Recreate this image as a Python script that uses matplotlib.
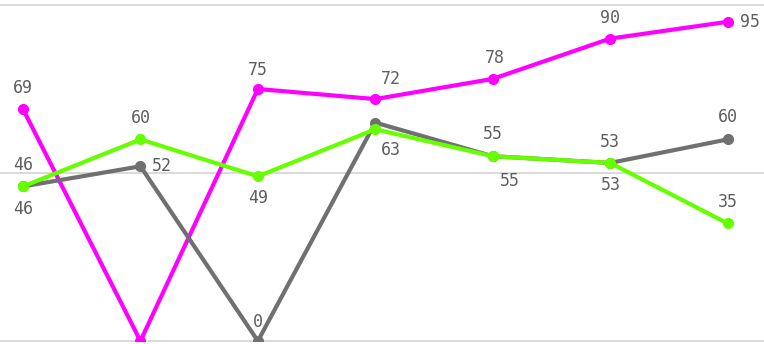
import matplotlib
matplotlib.use("Agg")
import matplotlib.pyplot as plt

# data
x = list(range(7))
magenta_vals = [69, 0, 75, 72, 78, 90, 95]
gray_vals = [46, 52, 0, 65, 55, 53, 60]
green_vals = [46, 60, 49, 63, 55, 53, 35]

# label text per point (None = no label shown)
magenta_lbl = ["69", None, "75", "72", "78", "90", "95"]
gray_lbl = ["46", "52", "0", None, "55", "53", "60"]
green_lbl = ["46", "60", "49", "63", "55", "53", "35"]

# label offsets in pixels (dx, dy)
magenta_off = [(0, 21), None, (0, 19), (16, 20), (2, 21), (0, 21), (22, 0)]
gray_off = [(0, 21), (21, 0), (0, 19), None, (0, 22), (0, 21), (0, 22)]
green_off = [(0, -23), (0, 21), (0, -22), (16, -21), (17, -25), (1, -22), (0, 21)]

fig = plt.figure(figsize=(7.64, 3.44), dpi=100)
ax = fig.add_axes([0, 3 / 344, 1, 336 / 344])
ax.set_xlim(-0.196, 6.31)
ax.set_ylim(0, 100)
ax.set_axis_off()

for yv in (0, 50, 100):
    ax.axhline(yv, color="#d3d3d3", lw=1.2, zorder=0, clip_on=False)

series = [
    (magenta_vals, magenta_lbl, magenta_off, "#ff00ff"),
    (gray_vals, gray_lbl, gray_off, "#707070"),
    (green_vals, green_lbl, green_off, "#66ff00"),
]
for i, (vals, lbls, offs, col) in enumerate(series):
    ax.plot(x, vals, color=col, lw=3, marker="o", ms=7, zorder=2 + i)
    for xi, v, t, o in zip(x, vals, lbls, offs):
        if t is None:
            continue
        ax.annotate(t, (xi, v), xytext=o, textcoords="offset pixels",
                    ha="center", va="center", fontsize=12,
                    family="DejaVu Sans Mono", color="#5e5e5e", zorder=6,
                    annotation_clip=False)

fig.savefig("out.png", dpi=100)
